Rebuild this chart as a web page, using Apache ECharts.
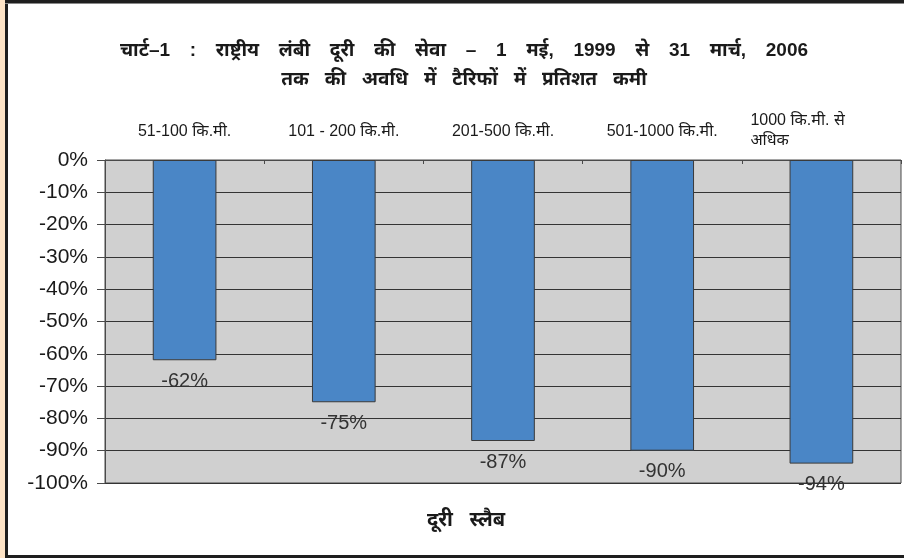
<!DOCTYPE html>
<html>
<head>
<meta charset="utf-8">
<script src="https://cdn.jsdelivr.net/npm/echarts@6/dist/echarts.min.js"></script>
<style>
  html, body { margin: 0; padding: 0; background: #fff; }
  #wrap { position: relative; width: 904px; height: 558px; overflow: hidden; }
  #chart { position: absolute; left: 0; top: 0; width: 904px; height: 558px; }
  .edge { position: absolute; pointer-events: none; }
</style>
</head>
<body>
<div id="wrap">
  <div id="chart"></div>
  <div class="edge" style="left:0;top:0;width:5px;height:558px;background:#fde3c6;"></div>
  <div class="edge" style="left:5px;top:0;width:3px;height:558px;background:#1e1e1e;"></div>
  <div class="edge" style="left:5px;top:0;width:899px;height:3px;background:#1e1e1e;"></div>
  <div class="edge" style="left:5px;top:3px;width:899px;height:1px;background:#888;"></div>
  <div class="edge" style="left:5px;top:555px;width:899px;height:3px;background:#1e1e1e;"></div>
</div>
<script>
  // दूरी स्लैब और प्रतिशत कमी
  const categories = ['51-100 कि.मी.', '101 - 200 कि.मी.', '201-500 कि.मी.', '501-1000 कि.मी.', '1000 कि.मी. से\nअधिक'];
  const reduction = [-62, -75, -87, -90, -94];

  const FONT = 'Arial, "Liberation Sans", "Noto Sans", sans-serif';

  // शीर्षक में शब्दों के बीच चौड़ी जगह
  const line1 = ['चार्ट–1', ':', 'राष्ट्रीय', 'लंबी', 'दूरी', 'की', 'सेवा', '–', '1', 'मई,', '1999', 'से', '31', 'मार्च,', '2006'].join('   \u2009');
  const line2 = ['तक', 'की', 'अवधि', 'में', 'टैरिफों', 'में', 'प्रतिशत', 'कमी'].join('   ');

  const chart = echarts.init(document.getElementById('chart'));
  chart.setOption({
    backgroundColor: '#fff',
    animation: false,
    title: [
      {
        text: line1 + '\n' + line2,
        left: 459,
        top: 31,
        textAlign: 'center',
        textStyle: { fontFamily: FONT, fontSize: 19, fontWeight: 'bold', color: '#1a1a1a', lineHeight: 29 },
      },
      {
        text: 'दूरी   स्लैब',
        left: 461,
        top: 505,
        textAlign: 'center',
        textStyle: { fontFamily: FONT, fontSize: 20, fontWeight: 'bold', color: '#1a1a1a' },
      },
    ],
    grid: {
      left: 105, right: 3, top: 160, bottom: 75,
      show: true,
      backgroundColor: '#d0d0d0',
      borderColor: '#4a4a4a',
      borderWidth: 1,
    },
    xAxis: {
      type: 'category',
      position: 'top',
      data: categories.map((c, i) => i === categories.length - 1
        ? { value: c, textStyle: { align: 'center', padding: [0, 44, -19, 0] } }
        : c),
      axisLine: { show: true, lineStyle: { color: '#4a4a4a', width: 1 } },
      axisTick: { show: true, inside: true, length: 4, lineStyle: { color: '#4a4a4a' } },
      axisLabel: {
        margin: 28,
        verticalAlign: 'middle',
        fontFamily: FONT,
        fontSize: 16,
        color: '#1a1a1a',
        interval: 0,
        formatter: (v) => v.indexOf('\n') >= 0
          ? v.split('\n').map(s => '{l|' + s + '}').join('\n')
          : v,
        rich: {
          l: { width: 98, align: 'left', fontFamily: FONT, fontSize: 16, color: '#1a1a1a', lineHeight: 20 },
        },
      },
      splitLine: { show: false },
    },
    yAxis: {
      type: 'value',
      min: -100,
      max: 0,
      interval: 10,
      axisLine: { show: true, lineStyle: { color: '#4a4a4a', width: 1 } },
      axisTick: { show: true, inside: false, length: 8, lineStyle: { color: '#4a4a4a' } },
      axisLabel: {
        margin: 17,
        formatter: '{value}%',
        fontFamily: FONT,
        fontSize: 21,
        color: '#1a1a1a',
      },
      splitLine: { show: true, lineStyle: { color: '#333', width: 1 } },
    },
    series: [{
      type: 'bar',
      data: reduction,
      barWidth: '40%',
      itemStyle: { color: '#4a86c6', borderColor: '#3a3a3a', borderWidth: 1 },
      label: {
        show: true,
        position: 'bottom',
        distance: 11,
        formatter: '{c}%',
        fontFamily: FONT,
        fontSize: 20,
        color: '#333',
      },
    }],
  });
</script>
</body>
</html>
